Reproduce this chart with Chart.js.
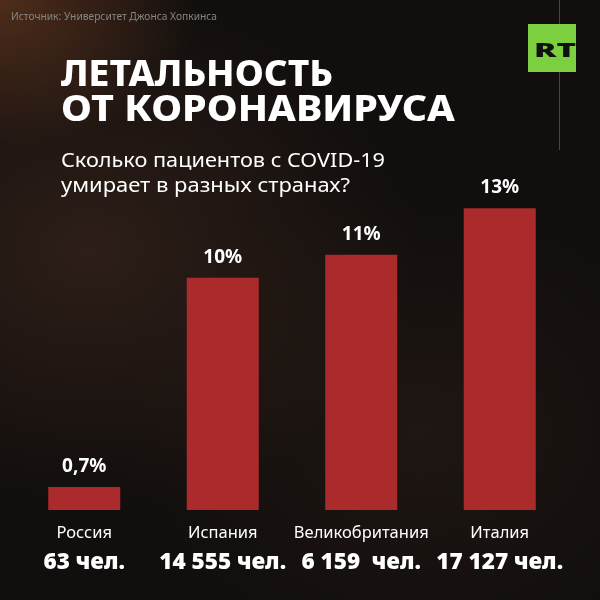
<!DOCTYPE html>
<html>
<head>
<meta charset="utf-8">
<script src="https://cdn.jsdelivr.net/npm/chart.js@4"></script>
<style>
  html, body { margin: 0; padding: 0; }
  body {
    width: 600px; height: 600px; overflow: hidden;
    background:
      radial-gradient(ellipse 200px 150px at 0px 0px, rgba(140,75,40,0.5), rgba(0,0,0,0) 100%),
      radial-gradient(ellipse 330px 260px at 90px 250px, rgba(80,50,36,0.45), rgba(0,0,0,0) 100%),
      radial-gradient(ellipse 300px 240px at 420px 430px, rgba(55,38,28,0.35), rgba(0,0,0,0) 100%),
      #110e0d;
  }
  #wrap { position: relative; width: 600px; height: 600px; }
</style>
</head>
<body>
<div id="wrap"><canvas id="c" width="600" height="600"></canvas></div>
<script>
const countries = ['Россия', 'Испания', 'Великобритания', 'Италия'];
const rates     = [0.7, 10, 11, 13];
const rateLabels = ['0,7%', '10%', '11%', '13%'];
const deaths    = ['63 чел.', '14 555 чел.', '6 159  чел.', '17 127 чел.'];

const FONT = '"Noto Sans", "Open Sans", sans-serif';

// draw text stretched (or squeezed) horizontally to a given width
function fitText(ctx, text, x, y, width) {
  const w = ctx.measureText(text).width;
  const k = width / w;
  ctx.save();
  ctx.translate(x, y);
  ctx.scale(k, 1);
  ctx.fillText(text, 0, 0);
  ctx.restore();
}

const textPlugin = {
  id: 'texts',
  beforeDraw(chart) {
    const ctx = chart.ctx;
    ctx.save();
    ctx.strokeStyle = 'rgba(200,200,200,0.3)';
    ctx.lineWidth = 1;
    ctx.beginPath(); ctx.moveTo(559.5, 0); ctx.lineTo(559.5, 150); ctx.stroke();
    ctx.restore();
  },
  afterDraw(chart) {
    const ctx = chart.ctx;
    const x = chart.scales.x;
    const meta = chart.getDatasetMeta(0);
    ctx.save();
    ctx.textBaseline = 'alphabetic';
    ctx.textAlign = 'left';

    // source
    ctx.fillStyle = '#858585';
    ctx.font = '11px ' + FONT;
    fitText(ctx, 'Источник: Университет Джонса Хопкинса', 11, 20, 206);

    // title
    ctx.fillStyle = '#ffffff';
    ctx.font = '800 35px ' + FONT;
    fitText(ctx, 'ЛЕТАЛЬНОСТЬ', 61, 86, 272);
    fitText(ctx, 'ОТ КОРОНАВИРУСА', 61, 121, 394);

    // subtitle
    ctx.font = '20px ' + FONT;
    fitText(ctx, 'Сколько пациентов с COVID-19', 61, 167, 324);
    fitText(ctx, 'умирает в разных странах?', 61, 192, 289);

    // RT logo
    ctx.fillStyle = '#7ccf3f';
    ctx.fillRect(528, 24, 48, 48);
    ctx.fillStyle = '#111';
    ctx.font = '900 20px ' + FONT;
    fitText(ctx, 'RT', 534, 57, 42);

    // bar labels
    ctx.textAlign = 'center';
    meta.data.forEach((bar, i) => {
      const cx = x.getPixelForValue(i);
      ctx.fillStyle = '#ffffff';
      ctx.font = 'bold 19px ' + FONT;
      ctx.fillText(rateLabels[i], cx, bar.y - 15);
      ctx.font = '16.5px ' + FONT;
      ctx.fillText(countries[i], cx, 538);
      ctx.font = '900 22.5px ' + FONT;
      ctx.fillText(deaths[i], cx, 569);
    });
    ctx.restore();
  }
};

new Chart(document.getElementById('c'), {
  type: 'bar',
  data: {
    labels: countries,
    datasets: [{
      data: rates,
      backgroundColor: '#ab2a2b',
      borderWidth: 0,
      barPercentage: 0.8,
      categoryPercentage: 0.65,
      minBarLength: 23
    }]
  },
  options: {
    responsive: false,
    animation: false,
    events: [],
    layout: { padding: { left: 15, right: 31, top: 185, bottom: 90 } },
    plugins: { legend: { display: false }, tooltip: { enabled: false } },
    scales: {
      x: { display: false },
      y: { display: false, min: 0, max: 14 }
    }
  },
  plugins: [textPlugin]
});
</script>
</body>
</html>
